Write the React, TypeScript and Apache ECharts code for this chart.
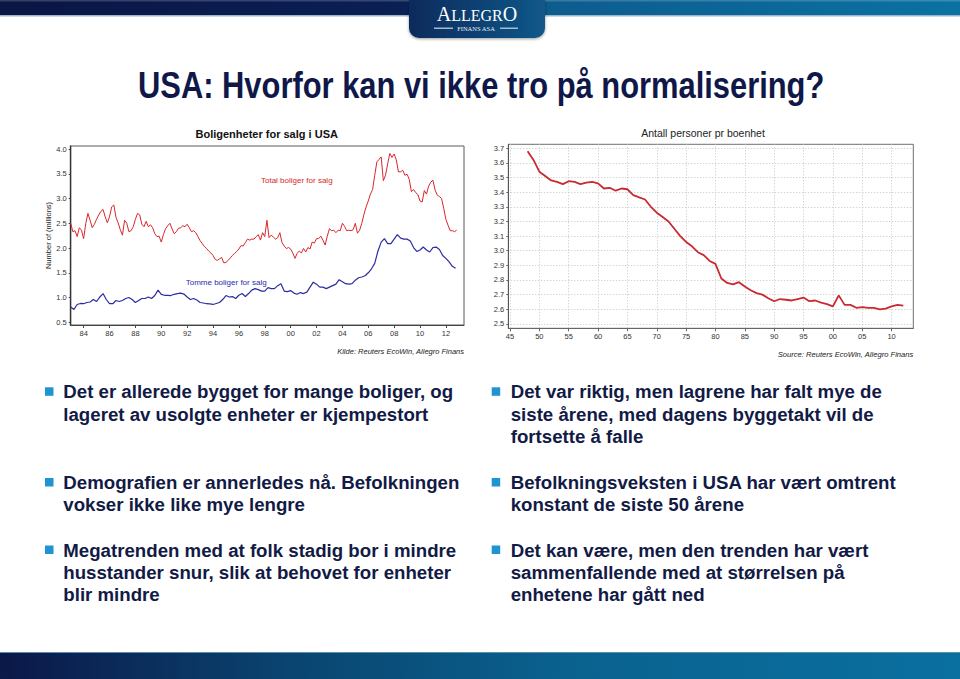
import React, { useEffect, useRef } from "react";
import * as echarts from "echarts";

// ---------- texts ----------
const SLIDE_TITLE = "USA: Hvorfor kan vi ikke tro på normalisering?";
const LEFT_TITLE = "Boligenheter for salg i USA";
const RIGHT_TITLE = "Antall personer pr boenhet";
const LEFT_SOURCE = "Kilde: Reuters EcoWin, Allegro Finans";
const RIGHT_SOURCE = "Source: Reuters EcoWin, Allegro Finans";
const TOTAL_LABEL = "Total boliger for salg";
const EMPTY_LABEL = "Tomme boliger for salg";
const LEFT_Y_NAME = "Number of (millions)";

const leftBullets = [
  ["Det er allerede bygget for mange boliger, og", "lageret av usolgte enheter er kjempestort"],
  ["Demografien er annerledes nå. Befolkningen", "vokser ikke like mye lengre"],
  ["Megatrenden med at folk stadig bor i mindre", "husstander snur, slik at behovet for enheter", "blir mindre"],
];
const rightBullets = [
  ["Det var riktig, men lagrene har falt mye de", "siste årene, med dagens byggetakt vil de", "fortsette å falle"],
  ["Befolkningsveksten i USA har vært omtrent", "konstant de siste 50 årene"],
  ["Det kan være, men den trenden har vært", "sammenfallende med at størrelsen på", "enhetene har gått ned"],
];

// ---------- data: left chart (millions), bi-monthly from 1983 ----------
const TOTAL_START = 1983;
const TOTAL_PER_YEAR = 6;
const totalForSale = [
  2.50, 2.33, 2.35, 2.23, 2.41, 2.36, // 1983
  2.19, 2.50, 2.70, 2.56, 2.41, 2.48, // 1984
  2.58, 2.67, 2.74, 2.78, 2.63, 2.51, // 1985
  2.63, 2.83, 2.87, 2.62, 2.51, 2.37, // 1986
  2.26, 2.56, 2.50, 2.33, 2.35, 2.43, // 1987
  2.58, 2.70, 2.67, 2.48, 2.43, 2.54, // 1988
  2.43, 2.47, 2.41, 2.29, 2.23, 2.24, // 1989
  2.12, 2.27, 2.39, 2.45, 2.50, 2.39, // 1990
  2.29, 2.33, 2.40, 2.41, 2.45, 2.43, // 1991
  2.48, 2.41, 2.33, 2.35, 2.31, 2.23, // 1992
  2.15, 2.09, 2.03, 1.99, 1.94, 1.90, // 1993
  1.85, 1.77, 1.75, 1.78, 1.81, 1.70, // 1994
  1.71, 1.75, 1.80, 1.85, 1.89, 1.93, // 1995
  1.98, 2.05, 2.04, 2.11, 2.18, 2.16, // 1996
  2.18, 2.18, 2.23, 2.27, 2.16, 2.31, // 1997
  2.23, 2.56, 2.21, 2.26, 2.22, 2.18, // 1998
  2.21, 2.31, 2.11, 2.04, 1.99, 2.01, // 1999
  1.98, 1.90, 1.79, 1.89, 1.94, 1.90, // 2000
  1.99, 1.92, 2.01, 1.98, 2.12, 2.10, // 2001
  2.19, 2.19, 2.24, 2.16, 2.06, 2.24, // 2002
  2.39, 2.35, 2.36, 2.31, 2.36, 2.35, // 2003
  2.50, 2.44, 2.35, 2.36, 2.35, 2.37, // 2004
  2.50, 2.30, 2.36, 2.50, 2.68, 2.83, // 2005
  2.95, 3.09, 3.18, 3.47, 3.74, 3.79, // 2006
  3.84, 3.36, 3.47, 3.70, 3.91, 3.83, // 2007
  3.90, 3.78, 3.54, 3.54, 3.57, 3.47, // 2008
  3.49, 3.39, 3.14, 3.18, 3.12, 3.08, // 2009
  2.95, 2.93, 3.16, 3.09, 3.25, 3.33, // 2010
  3.37, 3.17, 3.07, 3.04, 3.00, 2.80, // 2011
  2.58, 2.46, 2.35, 2.35, 2.33, 2.36, // 2012
];

// quarterly from 1983
const EMPTY_START = 1983;
const EMPTY_PER_YEAR = 4;
const emptyForSale = [
  0.81, 0.76, 0.86, 0.88, // 1983
  0.875, 0.90, 0.91, 0.96, // 1984
  0.92, 1.01, 1.08, 0.96, // 1985
  0.875, 0.875, 0.94, 0.92, // 1986
  0.94, 0.98, 1.00, 0.96, // 1987
  0.90, 0.94, 0.98, 0.98, // 1988
  1.01, 0.98, 1.04, 1.15, // 1989
  1.065, 1.045, 1.045, 1.04, // 1990
  1.065, 1.08, 1.09, 1.07, // 1991
  1.01, 0.96, 0.98, 0.95, // 1992
  0.90, 0.89, 0.875, 0.87, // 1993
  0.86, 0.88, 0.90, 0.96, // 1994
  1.04, 1.01, 1.02, 0.98, // 1995
  1.045, 1.08, 1.02, 1.08, // 1996
  1.15, 1.18, 1.16, 1.13, // 1997
  1.13, 1.20, 1.18, 1.18, // 1998
  1.24, 1.28, 1.13, 1.12, // 1999
  1.14, 1.09, 1.065, 1.10, // 2000
  1.08, 1.11, 1.21, 1.31, // 2001
  1.27, 1.21, 1.21, 1.18, // 2002
  1.21, 1.24, 1.27, 1.36, // 2003
  1.32, 1.28, 1.27, 1.28, // 2004
  1.35, 1.40, 1.415, 1.44, // 2005
  1.50, 1.58, 1.69, 1.94, // 2006
  2.12, 2.19, 2.09, 2.09, // 2007
  2.18, 2.27, 2.20, 2.18, // 2008
  2.18, 2.14, 2.01, 1.93, // 2009
  1.96, 2.02, 1.96, 1.92, // 2010
  2.01, 2.02, 1.97, 1.85, // 2011
  1.79, 1.72, 1.63, 1.59, // 2012
];

const leftXTicks = [1984, 1986, 1988, 1990, 1992, 1994, 1996, 1998, 2000, 2002, 2004, 2006, 2008, 2010, 2012];
const leftYTicks = [0.5, 1.0, 1.5, 2.0, 2.5, 3.0, 3.5, 4.0];

// ---------- data: right chart, annual from 1948 ----------
const PERSONS_START = 1948;
const personsPerUnit = [
  3.68, 3.62, 3.54, 3.51, 3.48, 3.47, 3.455, 3.475, 3.47, 3.455, // 1948-57
  3.465, 3.47, 3.46, 3.425, 3.43, 3.41, 3.425, 3.42, 3.38, 3.365, // 1958-67
  3.35, 3.30, 3.26, 3.23, 3.20, 3.15, 3.10, 3.06, 3.03, 2.99, // 1968-77
  2.97, 2.93, 2.91, 2.81, 2.78, 2.77, 2.785, 2.755, 2.73, 2.71, // 1978-87
  2.70, 2.675, 2.655, 2.67, 2.665, 2.66, 2.67, 2.68, 2.655, 2.66, // 1988-97
  2.645, 2.635, 2.62, 2.695, 2.63, 2.63, 2.61, 2.615, 2.61, 2.61, // 1998-2007
  2.60, 2.605, 2.62, 2.63, 2.625, // 2008-12
];
const rightXTicks = [1945, 1950, 1955, 1960, 1965, 1970, 1975, 1980, 1985, 1990, 1995, 2000, 2005, 2010];
const rightYTicks = [2.5, 2.6, 2.7, 2.8, 2.9, 3.0, 3.1, 3.2, 3.3, 3.4, 3.5, 3.6, 3.7];

// ---------- styling ----------
const SANS = "'Liberation Sans', Arial, sans-serif";
const SERIF = "'Liberation Serif', 'DejaVu Serif', serif";
const NAVY = "#121a46";
const BULLET_BLUE = "#1f94d2";
const BULLET_FONT = 18.67;

const twoDigit = (v: number) => String(Math.round(v) % 100).padStart(2, "0");

function bulletGraphics(groups: string[][], squareX: number, textX: number) {
  const firstBaselines = [398.3, 489, 556.5];
  const lineGap = 22.3;
  const els: any[] = [];
  groups.forEach((lines, gi) => {
    const b = firstBaselines[gi];
    els.push({
      type: "rect",
      shape: { x: squareX, y: b - 11, width: 8.5, height: 8.5 },
      style: { fill: BULLET_BLUE },
    });
    lines.forEach((ln, li) => {
      els.push({
        type: "text",
        x: textX,
        y: b + li * lineGap - 6.5,
        style: {
          text: ln,
          fill: NAVY,
          fontFamily: SANS,
          fontWeight: "bold",
          fontSize: BULLET_FONT,
          align: "left",
          verticalAlign: "middle",
        },
      });
    });
  });
  return els;
}

function buildOption() {
  const lin = (stops: [number, string][]) => ({
    type: "linear",
    x: 0,
    y: 0,
    x2: 1,
    y2: 0,
    colorStops: stops.map(([offset, color]) => ({ offset, color })),
  });

  const graphics: any[] = [
    // header bar
    {
      type: "rect",
      shape: { x: 0, y: 0, width: 960, height: 15 },
      style: { fill: lin([[0, "#0a1644"], [0.42, "#0a1f54"], [0.57, "#0d5c8e"], [1, "#0a72a2"]]) },
    },
    { type: "rect", shape: { x: 0, y: 0, width: 960, height: 1.5 }, style: { fill: "rgba(255,255,255,0.18)" } },
    { type: "rect", shape: { x: 0, y: 15, width: 960, height: 1.5 }, style: { fill: "#9ab6c9" } },
    // logo tab
    {
      type: "rect",
      shape: { x: 409, y: 0, width: 136, height: 38, r: [0, 0, 10, 10] },
      style: {
        fill: lin([[0, "#0a2a5c"], [1, "#125889"]]),
        shadowBlur: 3,
        shadowOffsetY: 1,
        shadowColor: "rgba(0,0,0,0.4)",
      },
    },
    {
      type: "text",
      x: 477,
      y: 23.5,
      style: {
        text: "{a|A}{b|LLEGR}{a|O}",
        align: "center",
        verticalAlign: "bottom",
        rich: {
          a: { fontSize: 20, fontFamily: SERIF, fill: "#ffffff", verticalAlign: "bottom" },
          b: { fontSize: 16, fontFamily: SERIF, fill: "#ffffff", verticalAlign: "bottom" },
        },
      },
    },
    {
      type: "text",
      x: 476,
      y: 28.2,
      style: {
        text: "FINANS ASA",
        fill: "#e6eef6",
        fontFamily: SERIF,
        fontSize: 6.5,
        align: "center",
        verticalAlign: "middle",
      },
    },
    { type: "line", shape: { x1: 434, y1: 28.2, x2: 453, y2: 28.2 }, style: { stroke: "#c9dbea", lineWidth: 1.2 } },
    { type: "line", shape: { x1: 500, y1: 28.2, x2: 518, y2: 28.2 }, style: { stroke: "#c9dbea", lineWidth: 1.2 } },
    // footer bar
    {
      type: "rect",
      shape: { x: 0, y: 652, width: 960, height: 27 },
      style: { fill: lin([[0, "#0b1848"], [0.3, "#0a4470"], [0.6, "#0a628f"], [1, "#0a70a0"]]) },
    },
    { type: "rect", shape: { x: 0, y: 652, width: 960, height: 1 }, style: { fill: "#5a8fb0" } },
    // slide title (narrow bold look)
    {
      type: "text",
      x: 138,
      y: 84.5,
      scaleX: 0.828,
      style: {
        text: SLIDE_TITLE,
        fill: "#0f1848",
        fontFamily: SANS,
        fontWeight: "bold",
        fontSize: 37.3,
        align: "left",
        verticalAlign: "middle",
      },
    },
    // chart titles
    {
      type: "text",
      x: 266.7,
      y: 133.7,
      style: { text: LEFT_TITLE, fill: "#111", fontFamily: SANS, fontWeight: "bold", fontSize: 11, align: "center", verticalAlign: "middle" },
    },
    {
      type: "text",
      x: 703,
      y: 133.3,
      style: { text: RIGHT_TITLE, fill: "#222", fontFamily: SANS, fontSize: 10.5, align: "center", verticalAlign: "middle" },
    },
    // series labels
    {
      type: "text",
      x: 261,
      y: 180.5,
      style: { text: TOTAL_LABEL, fill: "#d42a2a", fontFamily: SANS, fontSize: 8, align: "left", verticalAlign: "middle" },
    },
    {
      type: "text",
      x: 185.7,
      y: 282,
      style: { text: EMPTY_LABEL, fill: "#2b2bb0", fontFamily: SANS, fontSize: 8, align: "left", verticalAlign: "middle" },
    },
    // sources
    {
      type: "text",
      x: 464,
      y: 351,
      style: { text: LEFT_SOURCE, fill: "#222", fontFamily: SANS, fontStyle: "italic", fontSize: 7.5, align: "right", verticalAlign: "middle" },
    },
    {
      type: "text",
      x: 913.3,
      y: 354.3,
      style: { text: RIGHT_SOURCE, fill: "#222", fontFamily: SANS, fontStyle: "italic", fontSize: 7.6, align: "right", verticalAlign: "middle" },
    },
    ...bulletGraphics(leftBullets, 45, 63.3),
    ...bulletGraphics(rightBullets, 491.7, 510.7),
  ];

  const axisLabelBase = { fontFamily: SANS, fontSize: 7.5, color: "#333" };

  return {
    animation: false,
    backgroundColor: "#ffffff",
    grid: [
      { left: 70.7, top: 146, width: 393.3, height: 179, show: true, borderColor: "#5a5a5a", borderWidth: 1, backgroundColor: "#fff" },
      { left: 508.3, top: 144.3, width: 405, height: 184, show: true, borderColor: "#707070", borderWidth: 1, backgroundColor: "#fff" },
    ],
    xAxis: [
      {
        gridIndex: 0,
        type: "value",
        min: 1983.0,
        max: 2013.4,
        axisLine: { show: true, onZero: false, lineStyle: { color: "#444", width: 1 } },
        axisTick: { show: true, length: 3, customValues: leftXTicks, lineStyle: { color: "#444" } },
        axisLabel: { ...axisLabelBase, margin: 4, customValues: leftXTicks, formatter: (v: number) => twoDigit(v) },
        splitLine: { show: false },
      },
      {
        gridIndex: 1,
        type: "value",
        min: 1944.71,
        max: 2013.7,
        axisLine: { show: true, onZero: false, lineStyle: { color: "#666", width: 1 } },
        axisTick: { show: true, length: 3, customValues: rightXTicks, lineStyle: { color: "#666" } },
        axisLabel: { ...axisLabelBase, margin: 4, customValues: rightXTicks, formatter: (v: number) => twoDigit(v) },
        splitLine: { show: true, lineStyle: { color: "#c4c4c4", type: [1, 2], width: 1 } },
      },
    ],
    yAxis: [
      {
        gridIndex: 0,
        type: "value",
        min: 0.445,
        max: 4.061,
        name: LEFT_Y_NAME,
        nameLocation: "middle",
        nameRotate: 90,
        nameGap: 17,
        nameTextStyle: { fontFamily: SANS, fontSize: 7.5, color: "#222" },
        axisLine: { show: true, lineStyle: { color: "#333", width: 1.4 } },
        axisTick: { show: true, length: 2, customValues: leftYTicks, lineStyle: { color: "#444" } },
        axisLabel: { ...axisLabelBase, margin: 4, customValues: leftYTicks, formatter: (v: number) => v.toFixed(1) },
        splitLine: { show: false },
      },
      {
        gridIndex: 1,
        type: "value",
        min: 2.47,
        max: 3.727,
        axisLine: { show: true, lineStyle: { color: "#555", width: 1 } },
        axisTick: { show: true, length: 2, customValues: rightYTicks, lineStyle: { color: "#666" } },
        axisLabel: { ...axisLabelBase, margin: 4, customValues: rightYTicks, formatter: (v: number) => v.toFixed(1) },
        splitLine: { show: true, lineStyle: { color: "#c4c4c4", type: [1, 2], width: 1 } },
      },
    ],
    series: [
      {
        type: "line",
        xAxisIndex: 0,
        yAxisIndex: 0,
        data: totalForSale.map((v, i) => [TOTAL_START + i / TOTAL_PER_YEAR, v]),
        showSymbol: false,
        lineStyle: { color: "#d9262b", width: 1 },
        silent: true,
      },
      {
        type: "line",
        xAxisIndex: 0,
        yAxisIndex: 0,
        data: emptyForSale.map((v, i) => [EMPTY_START + i / EMPTY_PER_YEAR, v]),
        showSymbol: false,
        lineStyle: { color: "#2d2da0", width: 1.2 },
        silent: true,
      },
      {
        type: "line",
        xAxisIndex: 1,
        yAxisIndex: 1,
        data: personsPerUnit.map((v, i) => [PERSONS_START + i, v]),
        showSymbol: false,
        lineStyle: { color: "#c92a30", width: 1.8 },
        silent: true,
      },
    ],
    graphic: { elements: graphics },
  };
}

export default function App() {
  const ref = useRef<HTMLDivElement>(null);
  useEffect(() => {
    document.body.style.margin = "0";
    const chart = echarts.init(ref.current!, null, { renderer: "svg" });
    chart.setOption(buildOption() as any);
    return () => chart.dispose();
  }, []);
  return <div ref={ref} style={{ position: "fixed", left: 0, top: 0, width: 960, height: 679, background: "#fff" }} />;
}
